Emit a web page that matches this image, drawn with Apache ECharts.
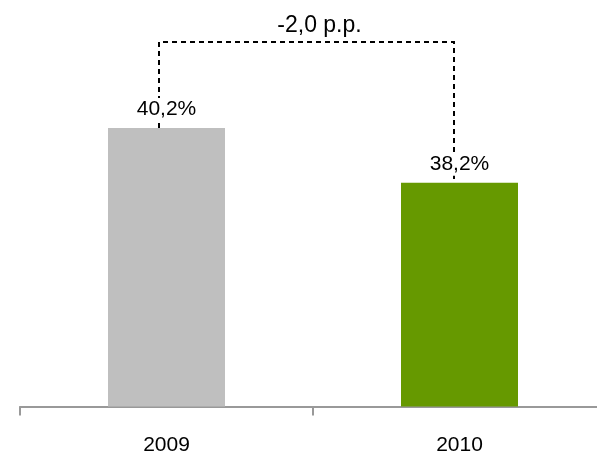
<!DOCTYPE html>
<html>
<head>
<meta charset="utf-8">
<script src="https://cdn.jsdelivr.net/npm/echarts@6/dist/echarts.min.js"></script>
<style>
html,body{margin:0;padding:0;background:#fff;}
#chart{width:597px;height:457px;}
</style>
</head>
<body>
<div id="chart"></div>
<script>
const categories = ['2009', '2010'];
const values = [40.2, 38.2];
const barColors = ['#BFBFBF', '#669900'];

const fmt = v => v.toFixed(1).replace('.', ',');
const delta = values[1] - values[0];
const deltaLabel = (delta < 0 ? '-' : '+') + fmt(Math.abs(delta)) + ' p.p.';

const chart = echarts.init(document.getElementById('chart'));
const font = "'Liberation Sans', Arial, sans-serif";

chart.setOption({
  animation: false,
  grid: { left: 20, width: 586, top: 24.3, bottom: 50.5, containLabel: false, outerBoundsMode: 'none' },
  xAxis: {
    type: 'category',
    data: categories,
    axisLine: { lineStyle: { color: '#999999', width: 2 } },
    axisTick: { show: true, length: 9, lineStyle: { color: '#999999', width: 2 } },
    axisLabel: { fontSize: 21, color: '#000', fontFamily: font, margin: 28 }
  },
  yAxis: {
    type: 'value', min: 30, max: 44,
    show: false, splitLine: { show: false }
  },
  series: [
    {
      type: 'custom',
      z: 1,
      silent: true,
      data: [[0, values[0], 1, values[1]]],
      renderItem: function (params, api) {
        const p1 = api.coord([api.value(0), api.value(1)]);
        const p2 = api.coord([api.value(2), api.value(3)]);
        const x1 = p1[0] - 7.5, x2 = p2[0] - 5.5;
        const topY = Math.min(p1[1], p2[1]) - 86;
        return {
          type: 'group',
          children: [
            {
              type: 'polyline',
              shape: { points: [[x1, p1[1]], [x1, topY], [x2, topY], [x2, p2[1]]] },
              style: { stroke: '#000', lineWidth: 2, lineDash: [5, 4], fill: null }
            },
            {
              type: 'text',
              style: {
                text: deltaLabel, x: (x1 + x2) / 2 + 13, y: topY - 16,
                align: 'center', verticalAlign: 'middle',
                fontSize: 23, fontFamily: font, fill: '#000'
              }
            }
          ]
        };
      }
    },
    {
      type: 'bar',
      z: 2,
      barWidth: 117,
      data: values.map((v, i) => ({ value: v, itemStyle: { color: barColors[i] } })),
      label: {
        show: true, position: 'top', distance: 7,
        formatter: p => fmt(p.value) + '%',
        fontSize: 21, fontFamily: font, color: '#000',
        backgroundColor: '#fff', padding: [1, 2]
      }
    }
  ]
});
</script>
</body>
</html>
